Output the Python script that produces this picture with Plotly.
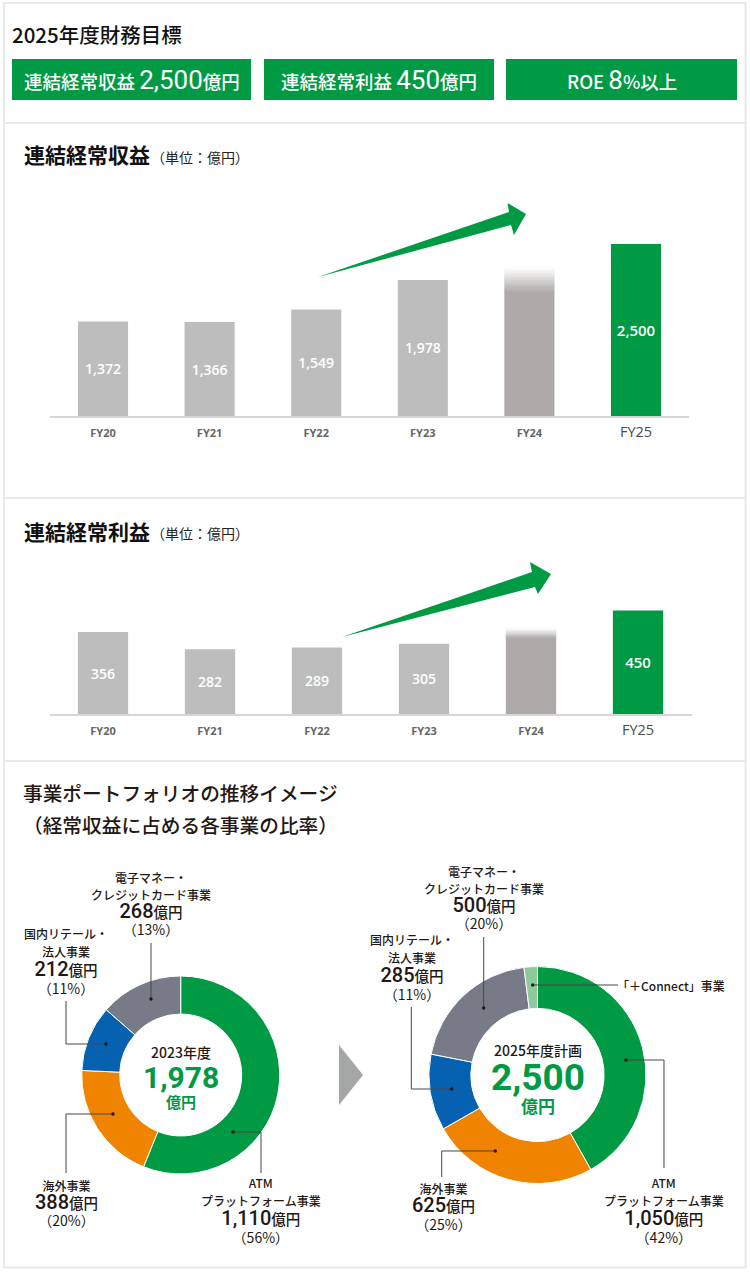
import plotly.graph_objects as go

W, H = 750, 1273

GREEN = "#009944"
GREY_BAR = "#bdbdbd"
GREY_FY24 = "#ada9a8"
INK = "#231815"
JP = "Noto Sans CJK JP"
NUM = "Roboto"

years = ["FY20", "FY21", "FY22", "FY23", "FY24", "FY25"]
revenue = [1372, 1366, 1549, 1978, 2165, 2500]  # FY24 has no label
revenue_fade_from = 1800
profit = [356, 282, 289, 305, 374, 450]  # same for FY24
profit_fade_from = 330

targets = ["連結経常収益", "連結経常利益", "ROE"]
target_values = ["2,500", "450", "8"]
target_units = ["億円", "億円", "%以上"]

biz_2023 = ["ATM\nプラットフォーム事業", "海外事業", "国内リテール・\n法人事業", "電子マネー・\nクレジットカード事業"]
oku_2023 = [1110, 388, 212, 268]
pct_2023 = [56, 20, 11, 13]

biz_2025 = ["ATM\nプラットフォーム事業", "海外事業", "国内リテール・\n法人事業", "電子マネー・\nクレジットカード事業", "「＋Connect」事業"]
oku_2025 = [1050, 625, 285, 500, 50]  # +Connect has no number, estimated from slice
pct_2025 = [42, 25, 11, 20]

slice_colors = [GREEN, "#f08300", "#0662b0", "#767b87", "#8ccb99"]


def px(x):
    return x / W


def py(y):
    return 1 - y / H


annotations = []
shapes = []


def text(s, x, y, size, color=INK, weight=400, family=JP, anchor="center"):
    annotations.append(dict(
        text=s, x=px(x), y=py(y), xref="paper", yref="paper", showarrow=False,
        xanchor=anchor, yanchor="middle", align=anchor, borderpad=0, borderwidth=0,
        font=dict(size=size, color=color, family=family, weight=weight),
    ))


def polygon(points, color, layer="above"):
    path = "M " + " L ".join(f"{px(x):.5f},{py(y):.5f}" for x, y in points) + " Z"
    shapes.append(dict(type="path", path=path, xref="paper", yref="paper",
                       fillcolor=color, line=dict(width=0), layer=layer))


def panel(x0, y0, x1, y1):
    shapes.append(dict(type="rect", xref="paper", yref="paper",
                       x0=px(x0), x1=px(x1), y0=py(y1), y1=py(y0),
                       fillcolor="white", line=dict(color="#e9e9e9", width=2), layer="below"))


def leader(points):
    path = "M " + " L ".join(f"{px(x):.5f},{py(y):.5f}" for x, y in points)
    shapes.append(dict(type="path", path=path, xref="paper", yref="paper",
                       line=dict(color="#4a4544", width=1)))
    dx, dy = points[0]
    shapes.append(dict(type="circle", xref="paper", yref="paper",
                       x0=px(dx - 1.7), x1=px(dx + 1.7), y0=py(dy + 1.7), y1=py(dy - 1.7),
                       fillcolor=INK, line=dict(width=0)))


def bar_panel(values, fade_from, suffix):
    """Bars plus the FY24 fade, which is stacked thin pieces going to white"""
    labels = [f"{v:,}" for v in values]
    labels[4] = ""
    colors = [GREY_BAR] * 4 + [GREY_FY24, GREEN]
    solid = list(values)
    solid[4] = fade_from
    traces = [go.Bar(
        x=years, y=solid, width=0.47, marker=dict(color=colors, line=dict(width=0)),
        text=labels, textposition="inside", insidetextanchor="middle", textangle=0,
        textfont=dict(family="Open Sans", size=[14, 14, 14, 14, 14, 15], color="white", weight=600),
        hoverinfo="skip", xaxis="x" + suffix, yaxis="y" + suffix,
    )]
    steps = 14
    top = values[4]
    piece = (top - fade_from) / steps
    fade_colors = []
    for i in range(steps):
        t = (i + 0.5) / steps
        c = [round(a + (255 - a) * t) for a in (173, 169, 168)]
        fade_colors.append(f"rgb({c[0]},{c[1]},{c[2]})")
    traces.append(go.Bar(
        x=[years[4]] * steps, y=[piece * 1.1] * steps,
        base=[fade_from + piece * i for i in range(steps)],
        width=0.47, marker=dict(color=fade_colors, line=dict(width=0)),
        hoverinfo="skip", xaxis="x" + suffix, yaxis="y" + suffix,
    ))
    return traces


fig = go.Figure()
for tr in bar_panel(revenue, revenue_fade_from, ""):
    fig.add_trace(tr)
for tr in bar_panel(profit, profit_fade_from, "2"):
    fig.add_trace(tr)


def donut(values, cx, cy, r, hole):
    fig.add_trace(go.Pie(
        values=values, sort=False, direction="clockwise", rotation=0, hole=hole,
        marker=dict(colors=slice_colors[:len(values)], line=dict(color="white", width=1)),
        textinfo="none", hoverinfo="skip", showlegend=False,
        domain=dict(x=[px(cx - r), px(cx + r)], y=[py(cy + r), py(cy - r)]),
    ))


donut(oku_2023, 180.7, 1075, 99, 0.616)
donut(oku_2025, 537.5, 1075, 108.5, 0.614)

# cards
panel(4, 3, 745.5, 123)
panel(4, 123, 745.5, 498)
panel(4, 498, 745.5, 761)
panel(4, 761, 745.5, 1267.5)

# top block
text("2025年度財務目標", 12, 34, 20.5, color="#111111", weight=500, anchor="left")
boxes = [(12, 251), (264, 494), (506, 737)]
for (x0, x1), name, val, unit in zip(boxes, targets, target_values, target_units):
    shapes.append(dict(type="rect", xref="paper", yref="paper",
                       x0=px(x0), x1=px(x1), y0=py(100), y1=py(59),
                       fillcolor=GREEN, line=dict(width=0)))
    s = (f'{name} <span style="font-family:{NUM};font-size:26px;font-weight:400">{val}</span>'
         f'<span style="font-size:18.5px">{unit}</span>')
    text(s, (x0 + x1) / 2, 79.5, 18.5, color="white", weight=500)

for title, y in [("連結経常収益", 154.5), ("連結経常利益", 531)]:
    text(title, 24, y, 21, color="#111111", weight=700, anchor="left")
    text("（単位：億円）", 151, y + 2, 14, color="#222222", anchor="left")

polygon([(318, 277), (509, 212), (507.5, 203), (526, 214), (514, 235), (511, 225)], GREEN)
polygon([(342, 637), (532, 572), (530, 562), (551, 574), (538, 594), (535, 587)], GREEN)

# portfolio block
text("事業ポートフォリオの推移イメージ", 23, 792, 19.7, weight=500, anchor="left")
text("（経常収益に占める各事業の比率）", 23, 824, 19.7, weight=500, anchor="left")
polygon([(339, 1045), (363, 1075), (339, 1105)], "#a5a7a6")

text("2023年度", 180.7, 1052, 14, weight=500)
text("1,978", 180.7, 1077, 30, color=GREEN, weight=700, family=NUM)
text("億円", 180.7, 1101, 15, color=GREEN, weight=700)
text("2025年度計画", 537.5, 1050, 14, weight=500)
text("2,500", 537.5, 1077, 37, color=GREEN, weight=700, family=NUM)
text("億円", 537.5, 1105, 17, color=GREEN, weight=700)


def biz_label(name, oku, pct, x, ys):
    """One text block per business, line spacing comes from the font size"""
    rows = [f'<span style="font-size:12px">{n}</span>' for n in name.split("\n")]
    rows.append(f'<span style="font-family:{NUM};font-size:20px">{oku:,}</span>'
                '<span style="font-size:14.5px">億円</span>')
    rows.append(f'<span style="font-size:14px;font-weight:400">（{pct}%）</span>')
    step = (ys[-1] - ys[0]) / (len(ys) - 1)
    text("<br>".join(rows), x, sum(ys) / len(ys), step / 1.3, weight=500)


biz_label(biz_2023[3], oku_2023[3], pct_2023[3], 151, [878, 894, 912, 930])
biz_label(biz_2023[2], oku_2023[2], pct_2023[2], 66, [934, 951, 970, 989])
biz_label(biz_2023[1], oku_2023[1], pct_2023[1], 66, [1186, 1203, 1221])
biz_label(biz_2023[0], oku_2023[0], pct_2023[0], 261, [1183, 1199, 1220, 1238])
biz_label(biz_2025[3], oku_2025[3], pct_2025[3], 484, [873, 889, 907, 925])
biz_label(biz_2025[2], oku_2025[2], pct_2025[2], 411.5, [940, 956, 977, 995])
biz_label(biz_2025[1], oku_2025[1], pct_2025[1], 443, [1189, 1207, 1225])
biz_label(biz_2025[0], oku_2025[0], pct_2025[0], 664, [1183, 1199, 1221, 1238])
text(biz_2025[4], 617, 985, 12, weight=500, anchor="left")

leader([(151, 999), (151, 943)])
leader([(106, 1044), (66, 1044), (66, 1001)])
leader([(113, 1114), (66, 1114), (66, 1173)])
leader([(233, 1132), (261, 1132), (261, 1173)])
leader([(532.7, 985), (618, 985)])
leader([(483.7, 1008), (483.7, 937)])
leader([(451.7, 1089), (411.3, 1089), (411.3, 1007)])
leader([(495.3, 1151), (441.7, 1151), (441.7, 1177)])
leader([(626, 1060), (664, 1060), (664, 1168)])

tick_text = [f"<b>{y}</b>" for y in years[:-1]]
tick_text.append(f'<span style="font-size:14.5px;color:#4a4a4a">{years[-1]}</span>')
x_common = dict(
    type="category", categoryorder="array", categoryarray=years, range=[-0.5, 5.5],
    tickmode="array", tickvals=years, ticktext=tick_text,
    tickfont=dict(family="Open Sans", size=11, color="#666666"),
    showgrid=False, zeroline=False, showline=True, linecolor="#d6d6d6", linewidth=1.5,
    ticks="", ticklabelstandoff=6, fixedrange=True,
)
y_common = dict(visible=False, fixedrange=True, showgrid=False, zeroline=False)

fig.update_layout(
    width=W, height=H,
    margin=dict(l=0, r=0, t=0, b=0),
    paper_bgcolor="white", plot_bgcolor="rgba(0,0,0,0)",
    barmode="overlay", showlegend=False,
    xaxis=dict(x_common, domain=[px(49.7), px(689.3)], anchor="y"),
    yaxis=dict(y_common, domain=[py(416), py(210)], range=[0, 2994], anchor="x"),
    xaxis2=dict(x_common, domain=[px(49.5), px(691.5)], anchor="y2"),
    yaxis2=dict(y_common, domain=[py(714), py(576)], range=[0, 600], anchor="x2"),
    shapes=shapes,
    annotations=annotations,
)

fig.write_html("out.html", post_script="document.body.style.margin='0';", config=dict(displayModeBar=False))
